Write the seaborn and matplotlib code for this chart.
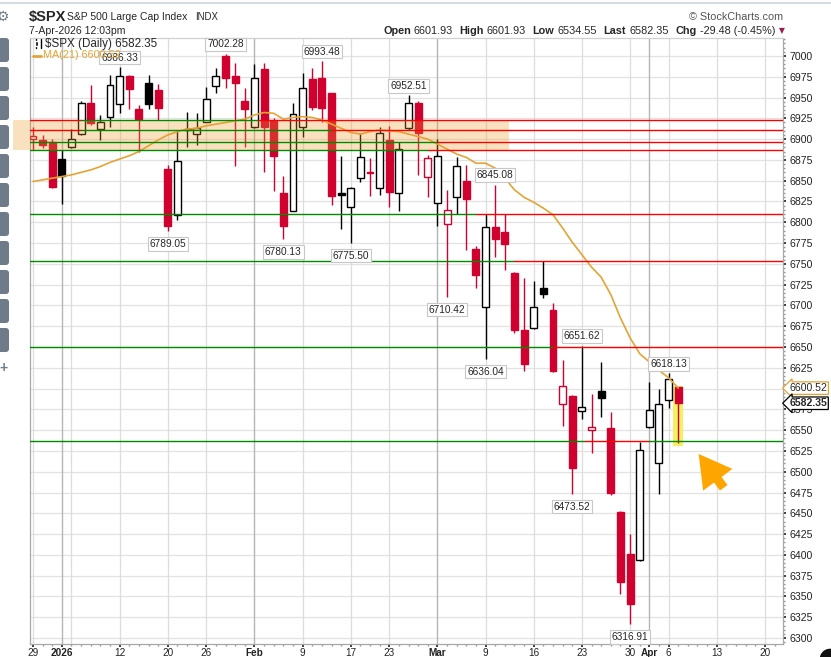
import numpy as np
import pandas as pd
import matplotlib
matplotlib.use("Agg")
import matplotlib.pyplot as plt
import matplotlib.patches as mpatches
import matplotlib.transforms as mtransforms
from matplotlib.ticker import MultipleLocator, FixedLocator, FuncFormatter
import seaborn as sns

# ── Data ───────────────────────────────────────────────────────────────────
opens = [6900.5, 6899, 6897, 6876, 6890, 6906, 6943, 6912, 6926, 6942,
         6976, 6936, 6968, 6959, 6864, 6809, 6911, 6906, 6921, 6964,
         7000, 6976, 6946, 6914, 6984, 6922, 6835, 6814, 6915, 6972,
         6974, 6955, 6835, 6818, 6853, 6860, 6841, 6899, 6835, 6913,
         6944, 6854, 6823, 6798, 6830, 6850, 6768, 6698, 6794, 6788,
         6739, 6671, 6673, 6721, 6695, 6581, 6591, 6573, 6550, 6597,
         6553, 6452, 6401, 6394, 6554, 6510, 6586, 6601.93]
highs = [6915, 6905, 6900, 6887, 6912, 6946, 6965, 6929, 6977, 6986.33,
         6977, 6941, 6977, 6966, 6869, 6911, 6933, 6932, 6963, 6986,
         7002.28, 6991, 6962, 6990, 6991, 6925, 6856, 6943, 6979, 6986,
         6993.48, 6956, 6880, 6843, 6907, 6877, 6914, 6916, 6897, 6952.51,
         6946, 6881, 6900, 6839, 6879, 6869, 6771, 6810, 6845.08, 6810,
         6740, 6733, 6729, 6753, 6703, 6634, 6592, 6651.62, 6594, 6632,
         6572, 6453, 6425, 6536, 6608, 6600, 6618.13, 6601.93]
lows = [6887, 6889, 6841, 6822, 6889, 6905, 6917, 6899, 6915, 6932,
        6936, 6884, 6936, 6923, 6789.05, 6803, 6891, 6893, 6920, 6956,
        6961, 6868, 6891, 6913, 6860, 6837, 6780.13, 6813, 6903, 6935,
        6921, 6821, 6792, 6775.50, 6848, 6831, 6833, 6818, 6813, 6911,
        6857, 6830, 6795, 6710.42, 6810, 6767, 6721, 6636.04, 6758, 6743,
        6667, 6621, 6672, 6709, 6620, 6555, 6473.52, 6563, 6523, 6566,
        6472, 6353, 6316.91, 6393, 6552, 6473, 6577, 6534.55]
closes = [6903.8, 6893, 6843, 6856, 6900, 6943, 6919, 6920, 6965, 6976,
          6960, 6924, 6942, 6938, 6795, 6874, 6912, 6913, 6948, 6976,
          6974, 6967, 6936, 6974, 6915, 6880, 6796, 6930, 6962, 6939,
          6938, 6831, 6833, 6841, 6879, 6859, 6907, 6836, 6888, 6944,
          6907, 6877, 6880, 6815, 6868, 6828, 6737, 6794, 6780, 6774,
          6670, 6630, 6698, 6714, 6621, 6603, 6504, 6578, 6554, 6589,
          6475, 6367, 6341, 6526, 6574, 6581, 6611.83, 6582.35]
ma21 = [6849, 6851, 6853, 6855, 6857, 6860, 6863, 6867, 6872, 6876,
        6880, 6885, 6892, 6899, 6905, 6909, 6912, 6913, 6916, 6918,
        6920, 6922, 6924, 6929, 6932, 6931, 6924, 6926, 6927, 6926,
        6923, 6918, 6913, 6908, 6906, 6909, 6911, 6910, 6909, 6906,
        6903, 6900, 6894, 6888, 6882, 6878, 6871, 6871, 6865, 6853,
        6839, 6830, 6824, 6817, 6809, 6793, 6776, 6761, 6746, 6734,
        6713, 6685, 6661, 6642, 6632, 6622, 6613, 6600.52]
prev_close = 6929.94

holidays = ["2026-01-01", "2026-01-19", "2026-02-16", "2026-04-03"]
tick_dates = ["2025-12-29", "2026-01-02", "2026-01-12", "2026-01-20", "2026-01-26",
              "2026-02-02", "2026-02-09", "2026-02-17", "2026-02-23", "2026-03-02",
              "2026-03-09", "2026-03-16", "2026-03-23", "2026-03-30", "2026-04-01",
              "2026-04-06", "2026-04-13", "2026-04-20"]
tick_labels = ["29", "2026", "12", "20", "26", "Feb", "9", "17", "23", "Mar",
               "9", "16", "23", "30", "Apr", "6", "13", "20"]
month_dates = ["2026-01-02", "2026-02-02", "2026-03-02", "2026-04-01"]
week_dates = ["2025-12-29", "2026-01-05", "2026-01-12", "2026-01-20", "2026-01-26",
              "2026-02-09", "2026-02-17", "2026-02-23", "2026-03-09", "2026-03-16",
              "2026-03-23", "2026-03-30", "2026-04-06", "2026-04-13", "2026-04-20"]
peak_days = ["2026-01-12", "2026-01-28", "2026-02-11", "2026-02-25",
             "2026-03-10", "2026-03-23", "2026-04-06"]
trough_days = ["2026-01-20", "2026-02-05", "2026-02-17", "2026-03-03",
               "2026-03-09", "2026-03-20", "2026-03-30"]

levels = [6923, 6911, 6897, 6887, 6810, 6753.5, 6650, 6537]
green_spans = {6923: [(5.0, 23.4)], 6911: [(5.0, 31.0)], 6897: [(-0.4, 42.0)],
               6887: [(-0.4, 41.0)], 6810: [(-0.4, 46.0)], 6753.5: [(-0.4, 50.0)],
               6650: [(-0.4, 54.0)], 6537: [(-0.4, 57.3), (64.0, 78.0)]}

RED = "#D0002F"
BLK = "#000000"
MA_CLR = "#E4A433"
W, H = 831, 657
X0, X1 = -0.36, 77.83

days = pd.bdate_range("2025-12-29", "2026-04-24")
days = days[~days.isin(pd.to_datetime(holidays))]
pos = {d.strftime("%Y-%m-%d"): i for i, d in enumerate(days)}

sns.set_theme(style="white")
plt.rcParams["font.family"] = ["Liberation Sans", "DejaVu Sans"]
plt.rcParams["text.parse_math"] = False

fig = plt.figure(figsize=(W / 100, H / 100), dpi=100)
fig.patch.set_facecolor("white")
ax = fig.add_axes([29.5 / W, 1 - 644 / H, 753 / W, 606 / H])
ax.set_facecolor("white")
ax.set_xlim(X0, X1)
ax.set_ylim(6292.8, 7021.6)

# grid
for p in range(6300, 7001, 25):
    ax.axhline(p, color="#E2E2E2", lw=0.9, zorder=0)
for d in week_dates:
    ax.axvline(pos[d], color="#DDDDDD", lw=0.9, zorder=0)
for d in month_dates:
    ax.axvline(pos[d], color="#B5B5B5", lw=1.0, zorder=0)

# support / resistance lines: green where drawn green, red elsewhere
for lv in levels:
    greens = green_spans.get(lv, [])
    edge = X0 - 0.5
    for a, b in greens:
        if a > edge:
            ax.plot([edge, a], [lv, lv], color="#FF0000", lw=1.0, zorder=5)
        ax.plot([a, b], [lv, lv], color="#008A00", lw=1.0, zorder=5)
        edge = b
    if edge < X1:
        ax.plot([edge, X1 + 0.5], [lv, lv], color="#FF0000", lw=1.0, zorder=5)

# candles
x = np.arange(len(closes))
o, hi, lo, c = (np.array(v, dtype=float) for v in (opens, highs, lows, closes))
prev = np.r_[prev_close, c[:-1]]
col = np.where(c >= prev, BLK, RED)
hollow = c > o
ax.vlines(x, lo, hi, colors=col, lw=1.0, zorder=3)
bot = np.minimum(o, c)
hgt = np.maximum(np.abs(c - o), 0.8)
ax.bar(x[hollow], hgt[hollow], bottom=bot[hollow], width=0.72,
       facecolor="white", edgecolor=col[hollow], linewidth=1.0, zorder=4)
ax.bar(x[~hollow], hgt[~hollow], bottom=bot[~hollow], width=0.72,
       facecolor=col[~hollow], edgecolor=col[~hollow], linewidth=1.0, zorder=4)

# moving average
sns.lineplot(x=x, y=ma21, ax=ax, color=MA_CLR, lw=1.2, zorder=4.5)

# orange zone
ax.add_patch(mpatches.Rectangle((-2.08, 6887), 51.5, 6923 - 6887, facecolor="#EE9A2A",
                                alpha=0.30, edgecolor="none", zorder=4.8, clip_on=False))

# yellow highlight on last bar
last = len(closes) - 1
ax.add_patch(mpatches.Rectangle((last - 0.55, 6531), 1.1, 6603.5 - 6531,
                                facecolor="#F5F062", edgecolor="none", zorder=2.5))

# arrow
ax.add_patch(mpatches.FancyArrowPatch((71.9, 6478), (68.95, 6524),
             arrowstyle="simple,head_length=1.1,head_width=1.25,tail_width=0.32",
             mutation_scale=21, color="#FFA500", zorder=6, lw=0))

# high / low labels
box = dict(boxstyle="square,pad=0.18", fc="white", ec="#C8C8C8", lw=0.8)
for d in peak_days:
    i = pos[d]
    ax.annotate(f"{highs[i]:.2f}", (i, highs[i]), xytext=(0, 7), textcoords="offset points",
                ha="center", va="center", fontsize=7.3, bbox=box, zorder=7)
for d in trough_days:
    i = pos[d]
    ax.annotate(f"{lows[i]:.2f}", (i, lows[i]), xytext=(0, -9.3), textcoords="offset points",
                ha="center", va="center", fontsize=7.3, bbox=box, zorder=7)

# axes styling
ax.yaxis.tick_right()
ax.yaxis.set_major_locator(MultipleLocator(25))
ax.yaxis.set_minor_locator(MultipleLocator(5))
ax.yaxis.set_major_formatter(FuncFormatter(lambda v, _: "" if round(v) == 6600 else f"{v:.0f}"))
ax.tick_params(axis="y", which="major", right=True, left=False, length=2, pad=3,
               labelsize=7.6, colors="#222222")
ax.tick_params(axis="y", which="minor", right=True, left=False, length=1.2, color="#999999")
ax.xaxis.set_major_locator(FixedLocator([pos[d] for d in tick_dates]))
ax.xaxis.set_minor_locator(FixedLocator(np.arange(0, 78)))
ax.set_xticklabels(tick_labels)
ax.tick_params(axis="x", which="major", bottom=True, length=2, pad=0.8,
               labelsize=7.2, colors="#222222")
ax.tick_params(axis="x", which="minor", bottom=True, length=1.2, color="#999999")
for t, lab in zip(ax.get_xticklabels(), tick_labels):
    if lab in ("2026", "Feb", "Mar", "Apr"):
        t.set_fontweight("bold")
for s in ax.spines.values():
    s.set_color("#A8A8A8")
    s.set_linewidth(0.9)
ax.spines["top"].set_color("#D0D0D0")

# right-hand price tags
yt = ax.get_yaxis_transform()
ax.text(1.009, ma21[-1], f"{ma21[-1]:.2f}", transform=yt, ha="left", va="center",
        fontsize=7.6, zorder=10, clip_on=False,
        bbox=dict(boxstyle="larrow,pad=0.12", fc="white", ec=MA_CLR, lw=0.9))
ax.text(1.009, closes[-1], f"{closes[-1]:.2f}", transform=yt, ha="left", va="center",
        fontsize=7.6, fontweight="bold", zorder=10, clip_on=False,
        bbox=dict(boxstyle="larrow,pad=0.12", fc="white", ec="black", lw=0.9))

# legend (top-left inside chart), drawn above the labels
def atxt(xp, yp, s, **kw):
    ax.text((xp - 29.5) / 753, (644 - yp) / 606, s, transform=ax.transAxes, zorder=20, **kw)

atxt(45, 43.5, f"$SPX (Daily) {closes[-1]:.2f}", fontsize=8.4, va="center")
atxt(43, 55.5, f"MA(21) {ma21[-1]:.2f}", fontsize=7.8, va="center", color=MA_CLR)
ax.plot([(33 - 29.5) / 753, (41 - 29.5) / 753], [(644 - 55.5) / 606] * 2,
        transform=ax.transAxes, color=MA_CLR, lw=2, zorder=20)
for xp in (36, 40.5):
    ax.plot([(xp - 29.5) / 753] * 2, [(644 - 39) / 606, (644 - 48) / 606],
            transform=ax.transAxes, color="black", lw=1, zorder=20)
ax.add_patch(mpatches.Rectangle(((34.5 - 29.5) / 753, (644 - 46) / 606), 3 / 753, 5 / 606,
                                transform=ax.transAxes, facecolor="black", zorder=20))


def ftxt(xp, yp, s, **kw):
    fig.text(xp / W, 1 - yp / H, s, **kw)


# header
ftxt(29, 17, "$SPX", fontsize=10.5, fontweight="bold", va="center")
ftxt(67, 17, "S&P 500 Large Cap Index", fontsize=7.5, va="center")
ftxt(195, 17, "INDX", fontsize=6.9, va="center")
ftxt(29, 30.5, "7-Apr-2026 12:03pm", fontsize=7.6, va="center")
ftxt(783, 17, "© StockCharts.com", fontsize=7.8, va="center", ha="right", color="#555555")
parts = [(383, "Open", True), (414, "6601.93", False), (459, "High", True),
         (487, "6601.93", False), (532, "Low", True), (558, "6534.55", False),
         (603, "Last", True), (630, "6582.35", False), (676, "Chg", True),
         (700, "-29.48 (-0.45%)", False)]
for xp, s, b in parts:
    ftxt(xp, 30.5, s, fontsize=7.8, va="center", fontweight="bold" if b else "normal")
ftxt(779, 30.5, "▼", fontsize=5.5, va="center", color="#9B1B4A", family=["DejaVu Sans"])

# page chrome: top rule, side buttons, widget blob
ident = mtransforms.IdentityTransform()
fig.add_artist(plt.Line2D([0, 1], [1 - 2.5 / H, 1 - 2.5 / H], color="#D5DBE2", lw=1.5))
for k in range(11):
    y0 = 38 + 29 * k
    fig.add_artist(mpatches.FancyBboxPatch((-5, H - (y0 + 24)), 14, 24,
                   boxstyle="round,pad=0,rounding_size=3", transform=ident,
                   facecolor="#707B8A", edgecolor="none"))
ftxt(-3, 17, "⚙", fontsize=10, va="center", color="#707B8A", family=["DejaVu Sans"])
ftxt(-1, 368, "+", fontsize=10, va="center", color="#707B8A", fontweight="bold")
fig.add_artist(mpatches.Circle((830, -2), 11, transform=ident, facecolor="#111111"))

fig.savefig("out.png", dpi=100)
